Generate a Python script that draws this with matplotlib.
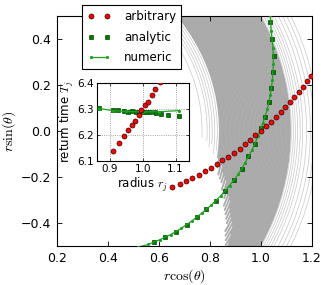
import matplotlib
matplotlib.use("Agg")
import matplotlib.pyplot as plt
from matplotlib.patches import Arc

plt.rcParams['font.family'] = ['DejaVu Sans']
plt.rcParams['mathtext.fontset'] = 'cm'

# ---------------- data ----------------
arb_x = [0.653, 0.684, 0.707, 0.732, 0.757, 0.780, 0.804, 0.827, 0.849, 0.873,
         0.895, 0.918, 0.940, 0.960, 0.979, 1.000, 1.022, 1.040, 1.060, 1.078,
         1.096, 1.115, 1.132, 1.149, 1.166, 1.182, 1.196]
arb_y = [-0.242, -0.230, -0.219, -0.203, -0.191, -0.175, -0.160, -0.143, -0.127, -0.113,
         -0.094, -0.077, -0.057, -0.038, -0.017, 0.002, 0.022, 0.040, 0.062, 0.083,
         0.106, 0.126, 0.147, 0.171, 0.193, 0.216, 0.240]

ana_x = [0.582, 0.625, 0.668, 0.710, 0.749, 0.787, 0.825, 0.860, 0.895, 0.927,
         0.951, 0.979, 1.000, 1.018, 1.033, 1.042, 1.049, 1.051, 1.045, 1.036]
ana_y = [-0.484, -0.462, -0.438, -0.407, -0.375, -0.340, -0.303, -0.260, -0.213, -0.164,
         -0.109, -0.055, 0.012, 0.062, 0.126, 0.188, 0.258, 0.327, 0.399, 0.473]

num_x = [0.520, 0.560, 0.604, 0.647, 0.689, 0.730, 0.768, 0.806, 0.843, 0.878, 0.911,
         0.940, 0.966, 0.990, 1.009, 1.026, 1.038, 1.046, 1.050, 1.048, 1.041, 1.038]
num_y = [-0.505, -0.493, -0.473, -0.450, -0.423, -0.391, -0.358, -0.322, -0.282, -0.237, -0.189,
         -0.137, -0.082, -0.022, 0.037, 0.094, 0.157, 0.223, 0.292, 0.363, 0.436, 0.505]

# inset: return time vs radius
in_arb_r = [0.910, 0.928, 0.944, 0.956, 0.967, 0.978, 0.988, 0.996, 1.006, 1.016, 1.027, 1.036, 1.052]
in_arb_T = [6.139, 6.170, 6.194, 6.218, 6.239, 6.255, 6.278, 6.294, 6.313, 6.326, 6.354, 6.375, 6.404]

in_ana_r = [0.868, 0.910, 0.926, 0.943, 0.956, 0.968, 0.980, 0.988, 1.001, 1.010,
            1.023, 1.036, 1.040, 1.055, 1.077, 1.110]
in_ana_T = [6.304, 6.295, 6.296, 6.293, 6.287, 6.290, 6.289, 6.283, 6.289, 6.287,
            6.287, 6.287, 6.285, 6.281, 6.278, 6.272]

in_num_r = [0.868, 0.910, 0.950, 1.000, 1.050, 1.110]
in_num_T = [6.301, 6.293, 6.290, 6.288, 6.289, 6.293]

# grey trajectories: arcs of radius R starting at angle (deg) and running upward
core_R = [0.84, 0.845, 0.85, 0.855, 0.86, 0.865, 0.87, 0.875, 0.88, 0.885, 0.89, 0.895,
          0.90, 0.905, 0.91, 0.915, 0.92, 0.925, 0.93, 0.935, 0.94, 0.945, 0.95, 0.955,
          0.96, 0.965, 0.97, 0.975, 0.98, 0.985, 0.99, 0.995, 1.0,
          1.005, 1.01, 1.015, 1.02, 1.025, 1.03, 1.035, 1.04, 1.045, 1.05, 1.055, 1.06,
          1.065, 1.07, 1.075, 1.08, 1.085, 1.09, 1.095, 1.10, 1.105, 1.11, 1.115]
core_start = [-8, -11, -9, -13, -10, -14, -12, -15, -13, -17, -14, -18,
              -16, -19, -17, -21, -18, -22, -19, -23, -21, -24, -22, -25,
              -23, -27, -24, -28, -25, -29, -27, -30, -29,
              -40, -40, -40, -40, -40, -40, -40, -40, -40, -40, -40, -40,
              -40, -40, -40, -40, -40, -40, -40, -40, -40, -40, -40]
fringe_R = [0.77, 0.79, 0.80, 0.81, 0.82, 0.83, 1.12, 1.128, 1.136, 1.145,
            1.155, 1.165, 1.18, 1.195, 1.21, 1.225]
fringe_start = [-2, -3, -5, -4, -7, -6, -40, -40, -40, -40,
                -40, -40, -40, -40, -40, -40]

# ---------------- figure ----------------
fig = plt.figure(figsize=(3.32, 2.85), dpi=100)
ax = fig.add_axes([0.1708, 0.1368, 0.768, 0.807])

for R, t0 in zip(core_R, core_start):
    ax.add_patch(Arc((0, 0), 2 * R, 2 * R, theta1=t0, theta2=45,
                     color='#aaaaaa', lw=1.3, zorder=1))
for R, t0 in zip(fringe_R, fringe_start):
    ax.add_patch(Arc((0, 0), 2 * R, 2 * R, theta1=t0, theta2=45,
                     color='#c8c8c8', lw=0.5, zorder=1))

la, = ax.plot(arb_x, arb_y, 'o', color='red', ms=3.6, mec='#330000', mew=0.5, zorder=4,
              label='arbitrary')
lb, = ax.plot(ana_x, ana_y, 's', color='#007a00', ms=3.5, mec='#004400', mew=0.5, zorder=3,
              label='analytic')
lc, = ax.plot(num_x, num_y, '.-', color='#1f9f1f', lw=0.9, ms=2.5, zorder=3,
              label='numeric')

ax.set_xlim(0.2, 1.2)
ax.set_ylim(-0.5, 0.5)
ax.set_xticks([0.2, 0.4, 0.6, 0.8, 1.0, 1.2])
ax.set_yticks([-0.4, -0.2, 0.0, 0.2, 0.4])
ax.tick_params(direction='in', top=True, right=True, labelsize=9, length=3.5, width=0.6, pad=4)
for s in ax.spines.values():
    s.set_linewidth(0.8)
ax.set_xlabel(r'$r\cos(\theta)$', fontsize=10, labelpad=2)
ax.set_ylabel(r'$r\sin(\theta)$', fontsize=10, labelpad=2)

# inset
ai = fig.add_axes([0.2913, 0.4351, 0.2771, 0.2747])
ai.plot(in_arb_r, in_arb_T, 'o', color='red', ms=3.6, mec='#330000', mew=0.5, zorder=4)
ai.plot(in_ana_r, in_ana_T, 's', color='#007a00', ms=3.5, mec='#004400', mew=0.5, zorder=3)
ai.plot(in_num_r, in_num_T, '.-', color='#1f9f1f', lw=0.9, ms=2.5, zorder=3)
ai.set_xlim(0.86, 1.14)
ai.set_ylim(6.1, 6.4)
ai.set_xticks([0.9, 1.0, 1.1])
ai.set_yticks([6.1, 6.2, 6.3, 6.4])
ai.grid(True, ls=':', color='#888888', lw=0.6)
ai.tick_params(direction='in', top=True, right=True, labelsize=7.5, length=2.5, width=0.5, pad=2)
for s in ai.spines.values():
    s.set_linewidth(0.8)
ai.set_xlabel(r'radius $r_j$', fontsize=8.5, labelpad=1)
ai.set_ylabel(r'return time $T_j$', fontsize=8.5, labelpad=1)

leg = fig.legend(handles=[la, lb, lc], loc='upper left', bbox_to_anchor=(0.247, 0.982),
                 borderaxespad=0, fontsize=8.5, numpoints=2, fancybox=False,
                 edgecolor='black', framealpha=1, handlelength=2.0, handletextpad=1.1,
                 labelspacing=0.62, borderpad=0.45)
leg.get_frame().set_linewidth(0.8)

fig.savefig('out.png', dpi=100)
